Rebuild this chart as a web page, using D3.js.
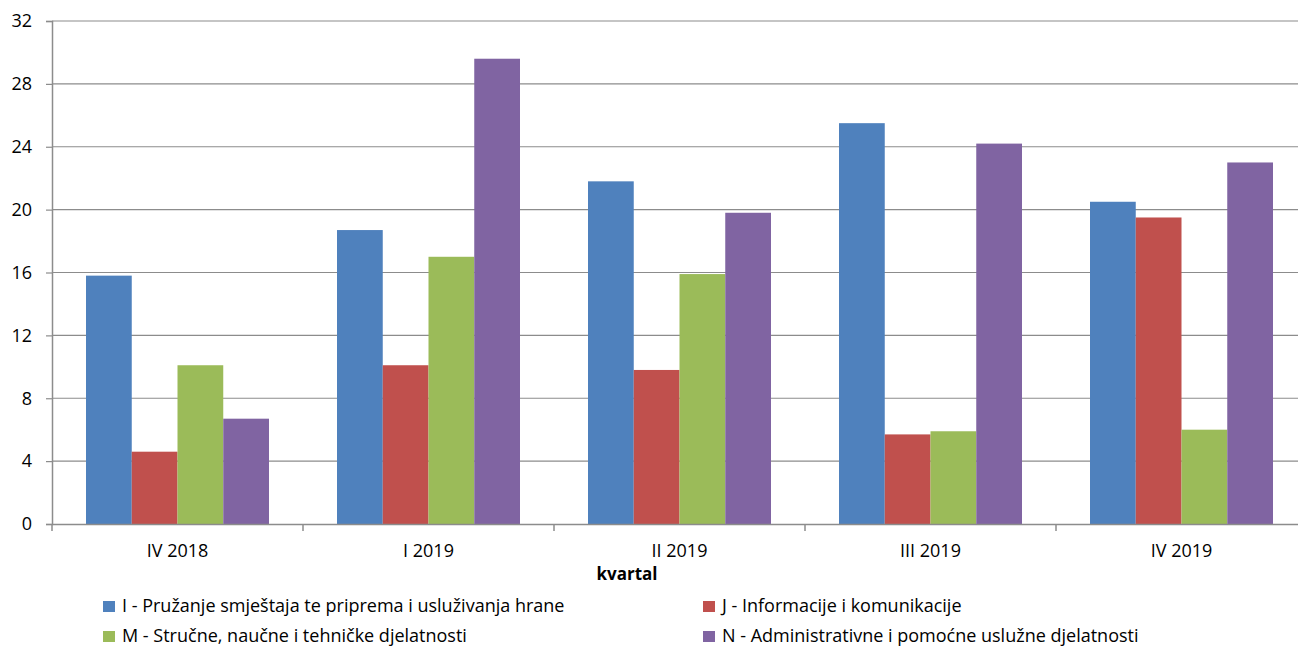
<!DOCTYPE html>
<html>
<head>
<meta charset="utf-8">
<script src="https://cdn.jsdelivr.net/npm/d3@7"></script>
<style>
  body { margin: 0; background: #fff; }
  text { font-family: "Open Sans", "DejaVu Sans", sans-serif; }
</style>
</head>
<body>
<div id="chart"></div>
<script>
// data
const quarters = ["IV 2018", "I 2019", "II 2019", "III 2019", "IV 2019"];
const seriesNames = [
  "I - Pružanje smještaja te priprema i usluživanja hrane",
  "J - Informacije i komunikacije",
  "M - Stručne, naučne i tehničke djelatnosti",
  "N - Administrativne i pomoćne uslužne djelatnosti"
];
const valuesI = [15.8, 18.7, 21.8, 25.5, 20.5];
const valuesJ = [4.6, 10.1, 9.8, 5.7, 19.5];
const valuesM = [10.1, 17.0, 15.9, 5.9, 6.0];
const valuesN = [6.7, 29.6, 19.8, 24.2, 23.0];
const yTicks = [0, 4, 8, 12, 16, 20, 24, 28, 32];
const colors = ["#4F81BD", "#C0504D", "#9BBB59", "#8064A2"];

const allValues = [valuesI, valuesJ, valuesM, valuesN];

const W = 1298, H = 648;
const margin = {top: 21, left: 52};
const width = 1255, height = 503;

const svg = d3.select("#chart")
    .append("svg")
    .attr("width", W)
    .attr("height", H);

const g = svg.append("g")
    .attr("transform", `translate(${margin.left}, ${margin.top})`);

const x = d3.scaleBand()
    .domain(quarters)
    .range([0, width]);

const x1 = d3.scaleBand()
    .domain(d3.range(seriesNames.length))
    .range([34, x.bandwidth() - 34]);

const y = d3.scaleLinear()
    .domain([0, 32])
    .range([height, 0]);

// gridlines
g.append("g")
    .selectAll("line")
    .data(yTicks.filter(d => d > 0))
    .join("line")
    .attr("x1", 0)
    .attr("x2", width)
    .attr("y1", d => y(d))
    .attr("y2", d => y(d))
    .attr("stroke", "#8c8c8c")
    .attr("stroke-width", 1.2);

// bars
const groups = g.append("g")
    .selectAll("g")
    .data(quarters)
    .join("g")
    .attr("transform", d => `translate(${x(d)},0)`);

groups.selectAll("rect")
    .data((q, qi) => allValues.map((vals, si) => ({si: si, v: vals[qi]})))
    .join("rect")
    .attr("x", d => x1(d.si))
    .attr("y", d => y(d.v))
    .attr("width", x1.bandwidth())
    .attr("height", d => height - y(d.v))
    .attr("fill", d => colors[d.si]);

// y axis
const yAxis = g.append("g")
    .call(d3.axisLeft(y).tickValues(yTicks).tickSize(6).tickPadding(14).tickFormat(d3.format("d")));
yAxis.select(".domain").attr("stroke", "#8c8c8c").attr("stroke-width", 1.5);
yAxis.selectAll(".tick line").attr("stroke", "#8c8c8c").attr("stroke-width", 1.2);
yAxis.selectAll("text").attr("font-size", 18).attr("fill", "#000")
    .style("font-family", "'Open Sans', sans-serif");

// x axis
const xAxis = g.append("g")
    .attr("transform", `translate(0, ${height})`)
    .call(d3.axisBottom(x).tickSize(0));
xAxis.select(".domain").attr("stroke", "#8c8c8c").attr("stroke-width", 1.5);
xAxis.selectAll("text")
    .attr("y", 33)
    .attr("dy", 0)
    .attr("font-size", 18).attr("fill", "#000")
    .style("font-family", "'Open Sans', sans-serif");

// category separators
g.append("g")
    .selectAll("line")
    .data(quarters)
    .join("line")
    .attr("x1", d => x(d))
    .attr("x2", d => x(d))
    .attr("y1", height)
    .attr("y2", height + 7)
    .attr("stroke", "#8c8c8c")
    .attr("stroke-width", 1.5);

// axis title
svg.append("text")
    .attr("x", 627)
    .attr("y", 580)
    .attr("text-anchor", "middle")
    .attr("font-size", 17)
    .attr("font-weight", "bold")
    .text("kvartal");

// legend
const legendPos = [[103, 612], [703, 612], [103, 642], [703, 642]];
const legend = svg.append("g")
    .selectAll("g")
    .data(seriesNames)
    .join("g")
    .attr("transform", (d, i) => `translate(${legendPos[i][0]}, ${legendPos[i][1]})`);

legend.append("rect")
    .attr("x", 0)
    .attr("y", -11)
    .attr("width", 12)
    .attr("height", 11)
    .attr("fill", (d, i) => colors[i]);

legend.append("text")
    .attr("x", 19)
    .attr("y", 0)
    .attr("font-size", 18)
    .text(d => d);
</script>
</body>
</html>
